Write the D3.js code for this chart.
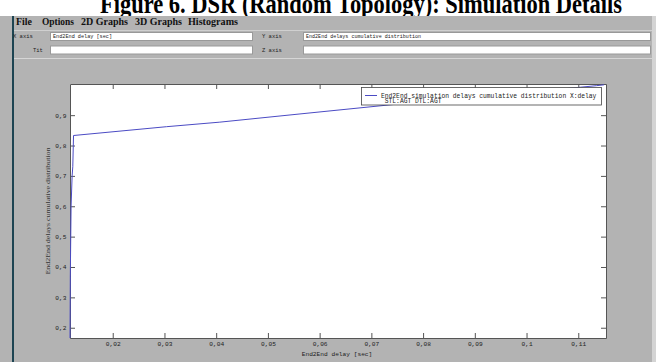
<!DOCTYPE html>
<html>
<head>
<meta charset="utf-8">
<script src="https://cdn.jsdelivr.net/npm/d3@7"></script>
<style>
  body { margin: 0; background: #fff; }
  svg { display: block; }
  .mono { font-family: "Liberation Mono", "DejaVu Sans Mono", monospace; fill: #222; }
</style>
</head>
<body>
<svg id="vis" width="656" height="362"></svg>
<script>
// values
let delay = [0.01174, 0.01180, 0.01195, 0.01215, 0.01228, 0.01242, 0.0304, 0.0407, 0.0562, 0.0736, 0.0900, 0.1104, 0.1135, 0.1150];
let cdf   = [0.166,   0.37,    0.60,    0.70,    0.73,    0.833,   0.862,  0.877,  0.904,  0.934,  0.960,  0.992,  0.997,  1.0];
let xTicks = [0.02, 0.03, 0.04, 0.05, 0.06, 0.07, 0.08, 0.09, 0.1, 0.11];
let yTicks = [0.2, 0.3, 0.4, 0.5, 0.6, 0.7, 0.8, 0.9];
let menuItems = ["File", "Options", "2D Graphs", "3D Graphs", "Histograms"];
let menuX = [16, 42, 81, 135, 188];
let menuW = [16, 32, 47, 47, 50];
let titleText = "Figure 6. DSR (Random Topology): Simulation Details";
let legendLines = ["End2End simulation delays cumulative distribution X:delay", " STL:AGT DTL:AGT"];

let svg = d3.select("#vis");
let lineColor = "#4b4bc4";
let gray = "#b3b3b3";

// title, cut off by the top of the picture
svg.append("text")
  .attr("x", 100).attr("y", 13)
  .attr("textLength", 522).attr("lengthAdjust", "spacingAndGlyphs")
  .style("font-family", "Liberation Serif, serif")
  .style("font-weight", "bold").style("font-size", "28px")
  .text(titleText);

// window frame
svg.append("rect").attr("x", 0).attr("y", 16).attr("width", 656).attr("height", 346).attr("fill", gray);
svg.append("rect").attr("x", 652).attr("y", 16).attr("width", 4).attr("height", 346).attr("fill", "#d4d4d4");
svg.append("rect").attr("x", 12).attr("y", 16).attr("width", 2).attr("height", 346).attr("fill", "#1d4452");
svg.append("line").attr("x1", 14).attr("x2", 652).attr("y1", 30.5).attr("y2", 30.5).attr("stroke", "#d0d0d0");
svg.append("line").attr("x1", 14).attr("x2", 652).attr("y1", 58.5).attr("y2", 58.5).attr("stroke", "#d6d6d6");

let menu = svg.append("g");
menu.selectAll("text")
  .data(menuItems)
  .enter()
  .append("text")
  .attr("x", (d, i) => menuX[i])
  .attr("y", 25)
  .attr("textLength", (d, i) => menuW[i]).attr("lengthAdjust", "spacingAndGlyphs")
  .style("font-family", "Liberation Serif, serif")
  .style("font-weight", "bold").style("font-size", "10.5px")
  .attr("fill", "#111")
  .text(d => d);

// axis name fields
let fields = [
  { label: "X axis", lx: 13, x: 50, w: 202, y: 32, value: "End2End delay [sec]", len: 59 },
  { label: "Y axis", lx: 262, x: 303, w: 347, y: 32, value: "End2End delays cumulative distribution", len: 115 },
  { label: "Tit", lx: 33, x: 50, w: 202, y: 45.5, value: "", len: 0 },
  { label: "Z axis", lx: 262, x: 303, w: 347, y: 45.5, value: "", len: 0 }
];
let form = svg.append("g");
fields.forEach(f => {
  form.append("text").attr("class", "mono").attr("x", f.lx).attr("y", f.y + 6)
    .style("font-size", "5.5px").text(f.label);
  form.append("rect").attr("x", f.x + 0.5).attr("y", f.y + 0.5).attr("width", f.w).attr("height", 8)
    .attr("fill", "#fff").attr("stroke", "#999");
  if (f.value) {
    form.append("text").attr("class", "mono").attr("x", f.x + 3).attr("y", f.y + 6)
      .attr("textLength", f.len).attr("lengthAdjust", "spacingAndGlyphs")
      .style("font-size", "5.5px").text(f.value);
  }
});

// plot
let x = d3.scaleLinear().domain([0.01174, 0.11536]).range([70, 606]);
let y = d3.scaleLinear().domain([0.1662, 1.0026]).range([338, 84]);
let fmt = d3.formatLocale({ decimal: ",", thousands: ".", grouping: [3], currency: ["", ""] }).format("~g");

svg.append("rect").attr("x", 70).attr("y", 84).attr("width", 536).attr("height", 254).attr("fill", "#fff");

function styleAxis(g) {
  g.selectAll("path, line").attr("stroke", "#555");
  g.selectAll("text").attr("class", "mono").style("font-size", "6.2px").attr("fill", "#333");
}

svg.append("g").attr("transform", "translate(0,338)")
  .call(d3.axisBottom(x).tickValues(xTicks).tickFormat(fmt).tickSizeInner(-5).tickSizeOuter(0).tickPadding(4))
  .call(styleAxis);
svg.append("g").attr("transform", "translate(0,84)")
  .call(d3.axisTop(x).tickValues(xTicks).tickFormat("").tickSizeInner(-5).tickSizeOuter(0))
  .call(styleAxis);
svg.append("g").attr("transform", "translate(70,0)")
  .call(d3.axisLeft(y).tickValues(yTicks).tickFormat(fmt).tickSizeInner(-5).tickSizeOuter(0).tickPadding(3.5))
  .call(styleAxis);
svg.append("g").attr("transform", "translate(606,0)")
  .call(d3.axisRight(y).tickValues(yTicks).tickFormat("").tickSizeInner(-5).tickSizeOuter(0))
  .call(styleAxis);

let line = d3.line()
  .x((d, i) => x(delay[i]))
  .y(d => y(d));

svg.append("path")
  .datum(cdf)
  .attr("d", line)
  .attr("fill", "none")
  .attr("stroke", lineColor)
  .attr("stroke-width", 1);

svg.append("text").attr("class", "mono")
  .attr("x", 337).attr("y", 355.5).attr("text-anchor", "middle")
  .style("font-size", "6.2px")
  .text("End2End delay [sec]");

svg.append("text")
  .attr("transform", "translate(50,211) rotate(-90)")
  .attr("text-anchor", "middle")
  .attr("textLength", 127).attr("lengthAdjust", "spacingAndGlyphs")
  .style("font-family", "Liberation Serif, serif").style("font-size", "7px")
  .attr("fill", "#333")
  .text("End2End delays cumulative distribution");

// legend
let legend = svg.append("g");
legend.append("rect").attr("x", 361.5).attr("y", 87.5).attr("width", 240).attr("height", 17.5)
  .attr("fill", "#fff").attr("stroke", "#444").attr("stroke-width", 0.8);
legend.append("line").attr("x1", 365).attr("x2", 377).attr("y1", 95.5).attr("y2", 95.5)
  .attr("stroke", lineColor);
legend.selectAll("text.leg")
  .data(legendLines)
  .enter()
  .append("text")
  .attr("class", "mono")
  .attr("x", 381)
  .attr("y", (d, i) => 97.5 + i * 5.8)
  .attr("xml:space", "preserve")
  .style("white-space", "pre")
  .style("font-size", "6.3px")
  .text(d => d);
</script>
</body>
</html>
